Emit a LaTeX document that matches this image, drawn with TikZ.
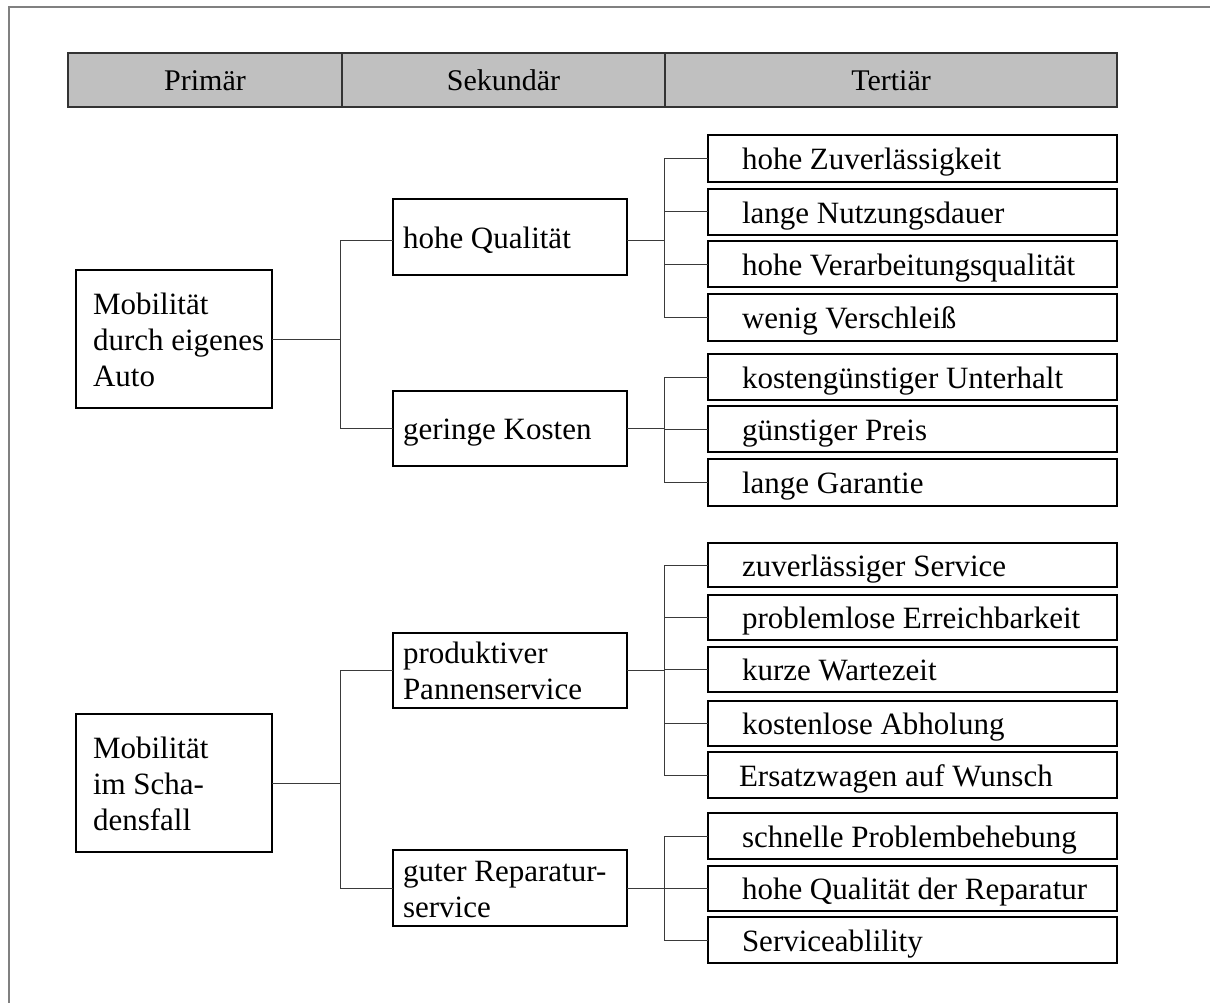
\documentclass[tikz,border=0pt]{standalone}
\usepackage{fontspec}
\setmainfont{Liberation Serif}
\definecolor{headfill}{HTML}{C0C0C0}
\definecolor{framegray}{HTML}{808080}
\definecolor{linkgray}{HTML}{3A3A3A}
% text block with a fixed left inset inside a box of given width, set slightly low
\newcommand\insettext[3]{\makebox[#1][l]{\hspace*{#2}\raisebox{-4pt}[\height][\depth]{\begin{tabular}{@{}l@{}}#3\end{tabular}}}}
\tikzset{
  cell/.style={draw=black, line width=1.1pt, inner sep=0pt, outer sep=0pt,
    anchor=north west, font=\fontsize{31}{36}\selectfont},
  headcell/.style={draw=black!80, line width=1.1pt, fill=headfill, inner sep=0pt,
    outer sep=0pt, anchor=north west, minimum height=54pt,
    text height=26pt, text depth=4pt, font=\fontsize{30}{36}\selectfont},
  link/.style={draw=linkgray, line width=1pt},
}
% box from (x1,y1) to (x2,y2) in pixel units, text inset from the left
\newcommand\tbox[7]{%
  \node[cell, minimum width=#4pt-#2pt, minimum height=#5pt-#3pt] (#1) at (#2,#3)
    {\insettext{\dimexpr #4pt-#2pt\relax}{#6}{#7}};}
\begin{document}
\begin{tikzpicture}[x=1pt,y=-1pt]
\useasboundingbox (0,0) rectangle (1210,1003);
\fill[white] (0,0) rectangle (1210,1003);
% outer frame (left and top edges)
\draw[framegray, line width=2pt] (8.5,1003) -- (8.5,7.5) -- (1210,7.5);

% header row
\node[headcell, minimum width=274pt] (hp) at (68,53) {Primär};
\node[headcell, minimum width=323pt] (hs) at (342,53) {Sekundär};
\node[headcell, minimum width=452pt] (ht) at (665,53) {Tertiär};

% primary goals
\tbox{p1}{76}{270}{272}{408}{17pt}{Mobilität\\durch eigenes\\Auto}
\tbox{p2}{76}{714}{272}{852}{17pt}{Mobilität\\im Scha-\\densfall}

% secondary goals
\tbox{s1}{393}{199}{627}{275}{10pt}{hohe Qualität}
\tbox{s2}{393}{391}{627}{466}{10pt}{geringe Kosten}
\tbox{s3}{393}{633}{627}{708}{10pt}{produktiver\\Pannenservice}
\tbox{s4}{393}{850}{627}{926}{10pt}{guter Reparatur-\\service}

% tertiary goals
\tbox{t1}{708}{135}{1117}{182}{34pt}{hohe Zuverlässigkeit}
\tbox{t2}{708}{189}{1117}{235}{34pt}{lange Nutzungsdauer}
\tbox{t3}{708}{241}{1117}{287}{34pt}{hohe Verarbeitungsqualität}
\tbox{t4}{708}{294}{1117}{341}{34pt}{wenig Verschleiß}

\tbox{t5}{708}{354}{1117}{400}{34pt}{kostengünstiger Unterhalt}
\tbox{t6}{708}{406}{1117}{452}{34pt}{günstiger Preis}
\tbox{t7}{708}{459}{1117}{506}{34pt}{lange Garantie}

\tbox{t8}{708}{543}{1117}{587}{34pt}{zuverlässiger Service}
\tbox{t9}{708}{595}{1117}{640}{34pt}{problemlose Erreichbarkeit}
\tbox{t10}{708}{647}{1117}{692}{34pt}{kurze Wartezeit}
\tbox{t11}{708}{701}{1117}{746}{34pt}{kostenlose Abholung}
\tbox{t12}{708}{752}{1117}{798}{31pt}{Ersatzwagen auf Wunsch}

\tbox{t13}{708}{813}{1117}{859}{34pt}{schnelle Problembehebung}
\tbox{t14}{708}{866}{1117}{911}{34pt}{hohe Qualität der Reparatur}
\tbox{t15}{708}{917}{1117}{963}{34pt}{Serviceablility}

% primary -> secondary (the upper branch meets its box a little below centre)
\draw[link] (p1.east) -- ++(68,0) |- ([yshift=-4pt]s1.west);
\draw[link] (p1.east) -- ++(68,0) |- (s2.west);
\draw[link] (p2.east) -- ++(68,0) |- (s3.west);
\draw[link] (p2.east) -- ++(68,0) |- (s4.west);

% secondary -> tertiary
\foreach \b in {t1, t2, t3, t4}
  \draw[link] ([yshift=-4pt]s1.east) -- ++(37,0) |- (\b.west);
\foreach \a/\b in {s2/t5, s2/t6, s2/t7,
                   s3/t8, s3/t9, s3/t10, s3/t11, s3/t12,
                   s4/t13, s4/t14, s4/t15}
  \draw[link] (\a.east) -- ++(37,0) |- (\b.west);
\end{tikzpicture}
\end{document}
